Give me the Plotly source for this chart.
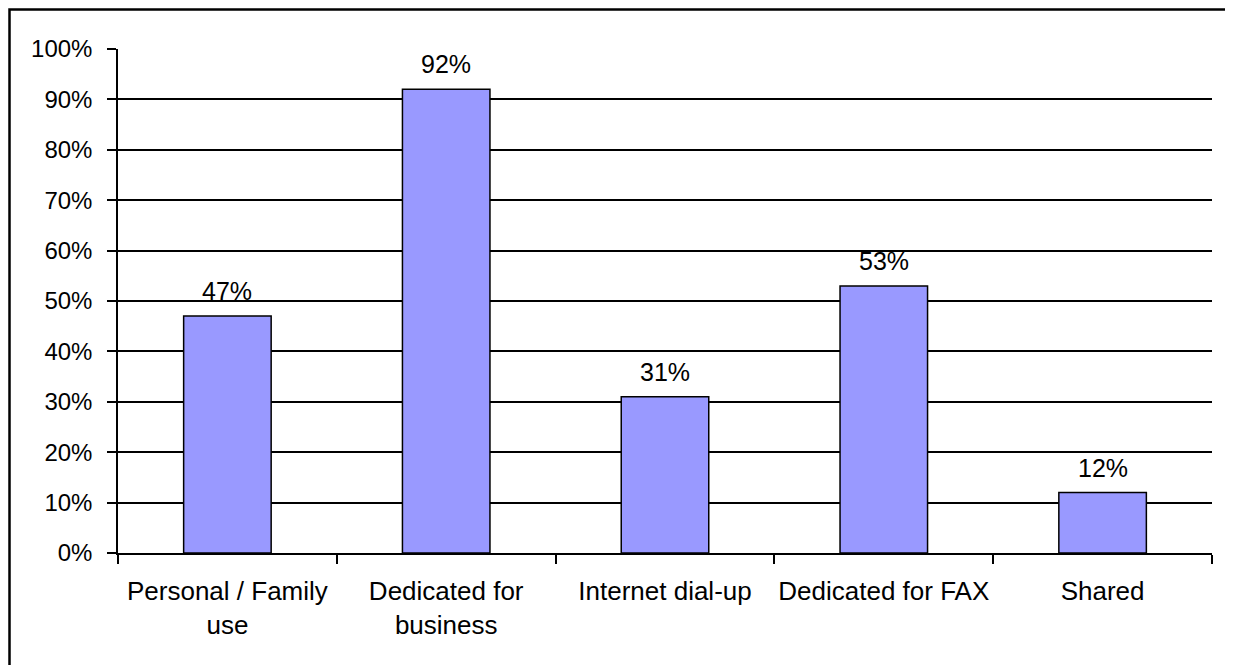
import plotly.graph_objects as go

# -- Datos ------------------------------------------------------------------
categorias = ["Personal / Family<br>use", "Dedicated for<br>business",
              "Internet dial-up", "Dedicated for FAX", "Shared"]
valores = [47, 92, 31, 53, 12]
etiquetas = [f"{v}%" for v in valores]

# la página agrega 8px de margen al body: compensamos
OFF = 8
W, H = 1233 - OFF, 665 - OFF
L, R, T, B = 118 - OFF, 21, 49 - OFF, 112
FAMILIA = "Liberation Sans, Arial, sans-serif"

fig = go.Figure()
fig.add_trace(go.Bar(
    x=categorias,
    y=valores,
    marker=dict(color="#9999FF", line=dict(color="black", width=1.5)),
    width=0.4,
    hoverinfo="skip",
))

# etiquetas de valor encima de cada barra
for c, v, e in zip(categorias, valores, etiquetas):
    fig.add_annotation(x=c, y=v, text=e, showarrow=False, yanchor="bottom",
                       yshift=9, font=dict(family=FAMILIA, size=25, color="black"))

# marco del gráfico (en coordenadas paper, pegado al borde de la figura)
pw, ph = W - L - R, H - T - B
fig.add_shape(type="rect", xref="paper", yref="paper",
              x0=(1.5 - L) / pw, x1=(1228 - OFF - L) / pw,
              y0=(H - B - 700) / ph, y1=(H - B - 1.5) / ph,
              line=dict(color="black", width=2.5), layer="above")

fig.update_layout(
    width=W, height=H,
    margin=dict(l=L, r=R, t=T, b=B),
    paper_bgcolor="white", plot_bgcolor="white",
    showlegend=False,
    font=dict(family=FAMILIA, size=24, color="black"),
    xaxis=dict(
        type="category", showline=True, linecolor="black", linewidth=1.5,
        ticks="outside", tickson="boundaries", ticklen=9, tickcolor="black",
        tickwidth=1.5, ticklabelstandoff=14, showgrid=False,
        tickfont=dict(size=26), tickangle=0, automargin=False,
    ),
    yaxis=dict(
        range=[0, 100], dtick=10, ticksuffix="%", showline=True,
        linecolor="black", linewidth=1.5, ticks="outside", ticklen=9,
        tickcolor="black", tickwidth=1.5, gridcolor="black", gridwidth=1.5,
        ticklabelstandoff=10, zeroline=False, fixedrange=True,
        tickfont=dict(size=24), automargin=False,
    ),
)

fig.write_html("out.html")
